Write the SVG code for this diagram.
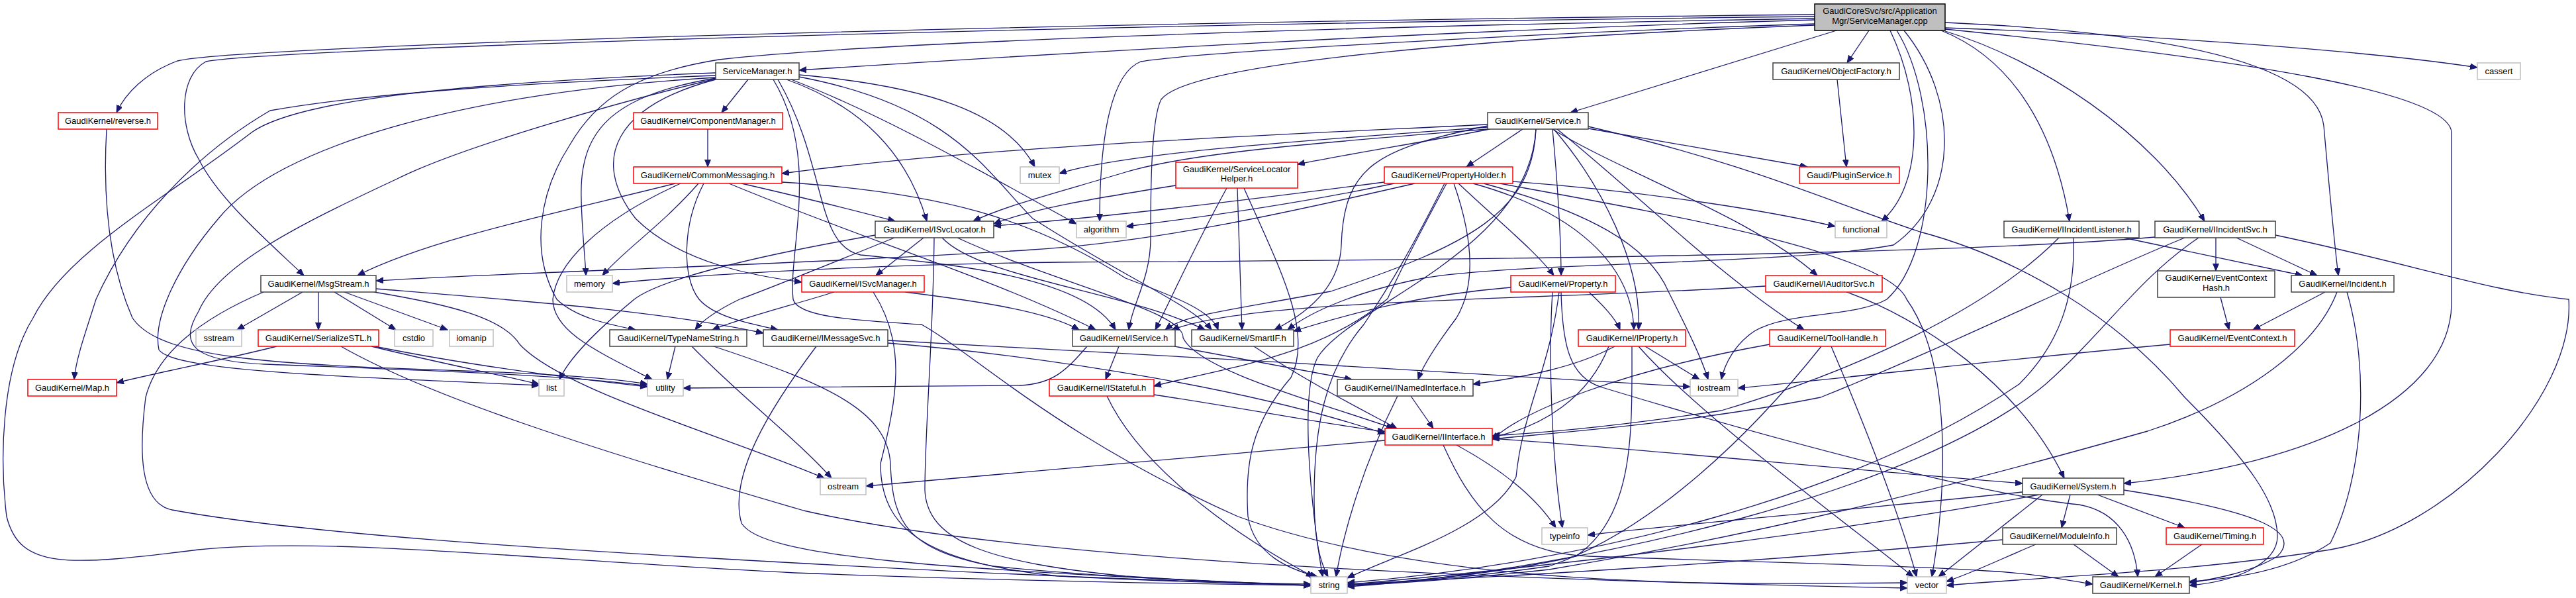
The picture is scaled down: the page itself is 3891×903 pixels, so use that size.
<svg xmlns="http://www.w3.org/2000/svg" width="3891" height="903" viewBox="0 0 3891 903">
<defs>
<marker id="a" markerUnits="userSpaceOnUse" markerWidth="12" markerHeight="10" viewBox="0 0 12 10" refX="11" refY="4.5" orient="auto"><path d="M0,0L11,4.5L0,9z" fill="#191970" stroke="#191970" stroke-width="1"/></marker>
<style>
.e path{fill:none;stroke:#191970;stroke-width:1.3;marker-end:url(#a)}
rect{fill:#fff;stroke-width:1.5}
.k rect{stroke:#404040}
.r rect{stroke:#ff0000}
.g rect{stroke:#bfbfbf}
.m rect{fill:#bfbfbf;stroke:#000}
text{font-family:"Liberation Sans",Arial,Helvetica,sans-serif;font-size:13px;text-anchor:middle;fill:#000}
</style>
</defs>
<rect x="0" y="0" width="3891" height="903" fill="#fff" stroke="none"/>
<g id="edges" class="e">
<path d="M2741,30 C2200,45 1600,80 1207,106"/>
<path d="M2823,46 L2790,95"/>
<path d="M2938,42 C3300,55 3600,80 3742,102"/>
<path d="M2741,22 C1500,35 350,70 268,92 C220,110 190,140 176,170"/>
<path d="M2741,25 C1500,38 400,75 311,93 C270,115 270,190 300,240 C330,300 400,360 459,416"/>
<path d="M2774,46 L2372,170"/>
<path d="M2741,36 C2300,50 1800,80 1723,93 C1680,110 1661,200 1661,334"/>
<path d="M2855,46 C2905,150 2905,280 2842,334"/>
<path d="M2932,46 C3030,85 3100,180 3126,334"/>
<path d="M2938,47 C3080,90 3250,200 3330,334"/>
<path d="M2938,34 C3300,50 3500,100 3510,190 C3518,280 3525,360 3532,416"/>
<path d="M2938,44 C3400,90 3700,140 3703,200 L3703,460 C3700,600 3500,700 3208,730"/>
<path d="M2741,38 C2300,55 1800,90 1754,150 C1738,180 1738,300 1738,360 C1738,420 1710,460 1705,498"/>
<path d="M2876,46 C2960,150 2960,300 2860,370 C2700,400 2300,395 2150,420 C2050,440 1980,470 1945,498"/>
<path d="M2865,46 C2930,150 2930,380 2850,452 C2800,480 2700,470 2650,500 C2620,520 2605,550 2600,573"/>
<path d="M2741,28 C2000,40 1300,65 1086,90 C960,110 900,150 860,220 C815,290 800,380 841,452 C870,480 920,490 960,498"/>
<path d="M1130,120 L1090,170"/>
<path d="M1188,120 C1300,160 1370,230 1400,334"/>
<path d="M1081,120 C930,160 890,240 960,330 C1030,400 1150,418 1211,426"/>
<path d="M1207,113 C1400,130 1520,170 1563,252"/>
<path d="M1195,120 C1350,180 1500,270 1626,338"/>
<path d="M1081,118 C920,145 875,200 878,300 C879,350 884,390 885,416"/>
<path d="M1081,114 C800,125 560,140 408,167 C300,230 200,330 145,452 C130,500 115,540 112,573"/>
<path d="M1081,117 C700,140 420,220 330,330 C270,400 230,480 240,528 C260,560 500,568 814,582"/>
<path d="M1081,119 C950,150 700,220 600,270 C450,340 330,400 300,470 C270,520 290,545 400,550 C600,558 850,565 978,583"/>
<path d="M1081,110 C700,125 450,150 380,200 C250,300 100,380 50,480 C0,560 0,700 10,780 C30,860 100,855 300,830 C500,810 800,845 1200,865 C1600,880 1850,882 1980,884"/>
<path d="M1168,120 C1240,240 1190,380 1198,452 C1205,480 1300,484 1392,490 C1480,540 1600,660 1870,780 C2200,900 2700,880 2881,880"/>
<path d="M1207,116 C1440,160 1490,260 1560,330 C1700,420 1800,460 1830,498"/>
<path d="M1175,120 C1250,250 1230,370 1300,385 C1450,400 1640,420 1685,498"/>
<path d="M2775,120 L2789,252"/>
<path d="M1069,195 L1069,252"/>
<path d="M2247,188 C1900,205 1500,220 1181,262"/>
<path d="M2247,192 C2000,210 1700,230 1600,262"/>
<path d="M2250,195 C2150,215 2050,230 1960,248"/>
<path d="M2300,195 L2215,252"/>
<path d="M2399,194 L2730,252"/>
<path d="M2247,195 C2000,215 1800,230 1700,260 C1600,290 1520,310 1470,334"/>
<path d="M2345,195 C2355,300 2358,380 2358,416"/>
<path d="M2345,195 C2450,260 2650,330 2745,416"/>
<path d="M2352,195 C2470,290 2600,420 2725,498"/>
<path d="M2347,195 C2420,280 2480,400 2475,498"/>
<path d="M2320,195 C2315,320 2220,370 2010,440 C1850,470 1790,475 1760,498"/>
<path d="M2185,277 C2140,360 2110,420 2096,451 C1990,540 1850,555 1743,583"/>
<path d="M2247,190 C2080,225 2030,250 2026,370 C2024,430 1980,470 1925,498"/>
<path d="M2320,195 C2310,380 2040,460 1990,540 C1960,600 1985,800 1998,871"/>
<path d="M2399,191 C2650,250 2750,300 2900,350 C3050,390 3200,480 3300,600 C3400,700 3440,760 3440,810 C3440,850 3380,878 3307,884"/>
<path d="M1020,277 C850,320 650,360 540,416"/>
<path d="M1120,277 C1220,300 1300,320 1352,334"/>
<path d="M1055,277 C1000,340 940,380 910,416"/>
<path d="M1063,277 C1030,340 1030,420 1056,452 C1080,480 1140,490 1175,498"/>
<path d="M1101,277 C1300,360 1500,420 1655,498"/>
<path d="M1181,275 C1420,290 1560,330 1700,420 C1780,450 1830,470 1840,498"/>
<path d="M1028,277 C900,335 840,400 835,452 C835,500 900,530 985,573"/>
<path d="M1776,280 C1650,300 1560,315 1501,338"/>
<path d="M1853,284 C1800,380 1770,450 1745,498"/>
<path d="M1869,284 L1876,498"/>
<path d="M1879,284 C1930,400 1985,500 1950,570 C1890,640 1880,700 1885,780 C1895,840 1950,860 1990,871"/>
<path d="M2091,275 C1900,300 1650,330 1501,341"/>
<path d="M2106,277 C1950,310 1800,330 1701,342"/>
<path d="M2137,277 C1950,320 1750,365 1560,377 C1200,400 800,410 568,424"/>
<path d="M2285,274 C2500,290 2680,320 2772,342"/>
<path d="M2203,277 C2270,340 2320,380 2347,416"/>
<path d="M2265,277 C2500,320 2850,380 2880,452 C2950,550 2940,750 2918,871"/>
<path d="M2241,277 C2400,320 2490,370 2520,440 C2550,500 2570,540 2580,573"/>
<path d="M2225,277 C2380,320 2465,400 2468,498"/>
<path d="M2196,277 C2225,360 2230,430 2200,480 C2170,520 2150,550 2142,573"/>
<path d="M2182,277 C2130,380 2100,430 2060,490 C2000,560 1985,650 1985,750 C1985,820 1995,850 2006,871"/>
<path d="M2400,441 C2420,460 2440,480 2447,498"/>
<path d="M2345,441 C2338,550 2345,700 2360,797"/>
<path d="M2355,441 C2340,560 2300,620 2290,720 C2250,800 2100,840 2035,873"/>
<path d="M2358,441 C2360,520 2370,570 2420,585 C2700,670 3000,748 3140,762 C3200,772 3225,820 3229,871"/>
<path d="M2282,434 C2150,445 2050,470 1954,500"/>
<path d="M2667,432 C2300,455 1900,450 1770,498"/>
<path d="M2789,441 C2900,480 3050,580 3118,722"/>
<path d="M3354,449 L3367,498"/>
<path d="M3512,441 L3403,498"/>
<path d="M3530,441 C3500,520 3400,600 3244,651 C3000,720 2700,800 2340,860 C2200,875 2100,882 2035,884"/>
<path d="M3545,441 C3580,560 3570,720 3520,820 C3460,860 3380,874 3307,878"/>
<path d="M3110,359 C3000,470 2800,560 2600,620 C2400,650 2300,655 2254,658"/>
<path d="M3132,359 C3135,450 3110,520 3050,580 C2800,750 2400,850 2035,880"/>
<path d="M3208,359 L3478,416"/>
<path d="M3255,358 C3000,380 2400,392 1600,396 C1300,400 1050,415 925,428"/>
<path d="M3300,359 C3150,420 2950,520 2750,600 C2550,640 2330,655 2254,663"/>
<path d="M3321,359 C3230,420 3180,500 3090,580 C2900,740 2400,860 2035,886"/>
<path d="M3347,359 L3347,409"/>
<path d="M3378,359 L3500,416"/>
<path d="M3437,355 C3650,400 3760,440 3880,452 C3890,600 3700,800 3520,830 C3300,865 3100,870 2940,884"/>
<path d="M457,441 L358,498"/>
<path d="M481,441 L481,498"/>
<path d="M505,441 L598,498"/>
<path d="M520,441 L676,498"/>
<path d="M568,436 C800,455 1000,470 1153,503"/>
<path d="M565,441 C680,460 760,480 785,520 C850,590 1100,660 1245,722"/>
<path d="M398,441 C330,470 240,520 220,600 C210,680 210,760 260,770 C450,805 800,828 1200,850 C1600,872 1850,880 1980,882"/>
<path d="M418,523 C330,545 250,560 176,578"/>
<path d="M561,523 C650,545 750,565 814,580"/>
<path d="M566,523 C700,550 850,570 978,584"/>
<path d="M515,523 C650,600 900,680 1214,771 C1600,860 2500,880 2881,888"/>
<path d="M1020,523 L1008,573"/>
<path d="M1045,523 C1120,600 1200,660 1256,722"/>
<path d="M1078,523 C1250,580 1340,620 1345,700 C1348,790 1370,830 1500,855 C1700,875 1900,880 1980,884"/>
<path d="M1233,523 C1160,620 1100,720 1120,790 C1150,840 1400,860 1980,884"/>
<path d="M1341,518 C1600,540 1900,590 2092,655"/>
<path d="M1341,514 C1700,535 2200,560 2553,584"/>
<path d="M1774,523 L2042,573"/>
<path d="M1690,523 L1670,573"/>
<path d="M1642,523 C1610,560 1590,580 1540,582 C1300,584 1100,585 1032,586"/>
<path d="M1894,523 C1980,580 2060,620 2110,647"/>
<path d="M2439,523 C2380,555 2300,570 2225,580"/>
<path d="M2430,523 C2400,600 2330,645 2254,660"/>
<path d="M2485,523 L2567,573"/>
<path d="M2465,523 C2465,650 2470,780 2380,840 C2250,870 2100,880 2035,884"/>
<path d="M2475,523 C2560,620 2750,760 2890,871"/>
<path d="M2673,520 C2450,560 2300,620 2254,664"/>
<path d="M2751,523 C2650,650 2500,800 2340,855 C2200,875 2100,880 2035,884"/>
<path d="M2766,523 C2820,650 2870,780 2895,871"/>
<path d="M3278,520 C3000,545 2800,570 2625,586"/>
<path d="M1743,596 C1900,620 2000,640 2092,652"/>
<path d="M1672,598 C1720,700 1850,800 1984,871"/>
<path d="M2131,598 L2165,647"/>
<path d="M2111,598 C2060,700 2030,800 2018,871"/>
<path d="M2092,665 C1800,690 1500,715 1308,734"/>
<path d="M2254,662 C2500,680 2800,710 3055,730"/>
<path d="M2200,672 C2270,710 2320,750 2350,797"/>
<path d="M2180,672 C2220,760 2270,835 2400,840 C2700,850 2900,855 3000,862 C3080,866 3130,878 3161,882"/>
<path d="M3127,747 L3114,797"/>
<path d="M3168,747 L3300,797"/>
<path d="M3055,743 C2800,770 2550,790 2398,808"/>
<path d="M3085,747 L2928,871"/>
<path d="M3080,747 C2800,800 2400,850 2035,883"/>
<path d="M3208,740 C3400,770 3480,800 3440,840 C3400,865 3340,875 3307,880"/>
<path d="M3132,822 L3200,871"/>
<path d="M3025,815 C2700,845 2300,870 2035,882"/>
<path d="M3075,822 C3020,845 2980,865 2940,878"/>
<path d="M3326,822 L3255,871"/>
<path d="M1351,359 C1250,400 1150,440 1117,452 C1080,470 1060,485 1050,498"/>
<path d="M1395,359 L1323,416"/>
<path d="M1411,359 C1410,500 1397,650 1397,740 C1400,820 1500,850 1700,870 C1850,880 1950,883 1980,884"/>
<path d="M1423,359 C1480,420 1700,440 1820,498"/>
<path d="M1446,359 C1600,430 1790,470 1787,510 C1810,560 2000,610 2105,647"/>
<path d="M1322,355 C1150,385 1000,420 958,452 C900,500 860,540 845,573"/>
<path d="M1260,441 C1200,460 1120,480 1076,498"/>
<path d="M1367,441 C1480,455 1580,470 1630,498"/>
<path d="M1319,441 C1370,520 1355,600 1330,700 C1330,800 1400,850 1600,870 C1800,880 1950,883 1980,884"/>
<path d="M161,195 C155,300 165,400 200,480 C240,540 400,550 700,560 C850,565 930,572 978,580"/>
</g>
<g id="n_main" class="m"><rect x="2741" y="6" width="197" height="40"/><text x="2839.5" y="21">GaudiCoreSvc/src/Application</text><text x="2839.5" y="36">Mgr/ServiceManager.cpp</text></g>
<g id="n_smh" class="k"><rect x="1081" y="95" width="126" height="25"/><text x="1144" y="112">ServiceManager.h</text></g>
<g id="n_objf" class="k"><rect x="2678" y="95" width="191" height="25"/><text x="2773.5" y="112">GaudiKernel/ObjectFactory.h</text></g>
<g id="n_cassert" class="g"><rect x="3742" y="95" width="65" height="25"/><text x="3774.5" y="112">cassert</text></g>
<g id="n_rev" class="r"><rect x="88" y="170" width="150" height="25"/><text x="163" y="187">GaudiKernel/reverse.h</text></g>
<g id="n_comp" class="r"><rect x="957" y="170" width="225" height="25"/><text x="1069.5" y="187">GaudiKernel/ComponentManager.h</text></g>
<g id="n_svc" class="k"><rect x="2247" y="170" width="152" height="25"/><text x="2323" y="187">GaudiKernel/Service.h</text></g>
<g id="n_cm" class="r"><rect x="957" y="252" width="224" height="25"/><text x="1069" y="269">GaudiKernel/CommonMessaging.h</text></g>
<g id="n_mutex" class="g"><rect x="1541" y="252" width="59" height="25"/><text x="1570.5" y="269">mutex</text></g>
<g id="n_slh" class="r"><rect x="1776" y="245" width="184" height="39"/><text x="1868" y="259.5">GaudiKernel/ServiceLocator</text><text x="1868" y="274">Helper.h</text></g>
<g id="n_ph" class="r"><rect x="2091" y="252" width="194" height="25"/><text x="2188" y="269">GaudiKernel/PropertyHolder.h</text></g>
<g id="n_plug" class="r"><rect x="2718" y="252" width="151" height="25"/><text x="2793.5" y="269">Gaudi/PluginService.h</text></g>
<g id="n_isl" class="k"><rect x="1322" y="334" width="179" height="25"/><text x="1411.5" y="351">GaudiKernel/ISvcLocator.h</text></g>
<g id="n_alg" class="g"><rect x="1626" y="334" width="75" height="25"/><text x="1663.5" y="351">algorithm</text></g>
<g id="n_func" class="g"><rect x="2772" y="334" width="78" height="25"/><text x="2811" y="351">functional</text></g>
<g id="n_iil" class="k"><rect x="3027" y="334" width="204" height="25"/><text x="3129" y="351">GaudiKernel/IIncidentListener.h</text></g>
<g id="n_iis" class="k"><rect x="3255" y="334" width="182" height="25"/><text x="3346" y="351">GaudiKernel/IIncidentSvc.h</text></g>
<g id="n_msg" class="k"><rect x="394" y="416" width="174" height="25"/><text x="481" y="433">GaudiKernel/MsgStream.h</text></g>
<g id="n_mem" class="g"><rect x="856" y="416" width="69" height="25"/><text x="890.5" y="433">memory</text></g>
<g id="n_ism" class="r"><rect x="1211" y="416" width="185" height="25"/><text x="1303.5" y="433">GaudiKernel/ISvcManager.h</text></g>
<g id="n_prop" class="r"><rect x="2282" y="416" width="158" height="25"/><text x="2361" y="433">GaudiKernel/Property.h</text></g>
<g id="n_ias" class="r"><rect x="2667" y="416" width="176" height="25"/><text x="2755" y="433">GaudiKernel/IAuditorSvc.h</text></g>
<g id="n_ech" class="k"><rect x="3259" y="409" width="177" height="40"/><text x="3347.5" y="424">GaudiKernel/EventContext</text><text x="3347.5" y="439">Hash.h</text></g>
<g id="n_inc" class="k"><rect x="3461" y="416" width="155" height="25"/><text x="3538.5" y="433">GaudiKernel/Incident.h</text></g>
<g id="n_sstream" class="g"><rect x="296" y="498" width="69" height="25"/><text x="330.5" y="515">sstream</text></g>
<g id="n_ser" class="r"><rect x="390" y="498" width="182" height="25"/><text x="481" y="515">GaudiKernel/SerializeSTL.h</text></g>
<g id="n_cstdio" class="g"><rect x="596" y="498" width="58" height="25"/><text x="625" y="515">cstdio</text></g>
<g id="n_iomanip" class="g"><rect x="679" y="498" width="66" height="25"/><text x="712" y="515">iomanip</text></g>
<g id="n_tns" class="k"><rect x="921" y="498" width="207" height="25"/><text x="1024.5" y="515">GaudiKernel/TypeNameString.h</text></g>
<g id="n_ims" class="k"><rect x="1153" y="498" width="188" height="25"/><text x="1247" y="515">GaudiKernel/IMessageSvc.h</text></g>
<g id="n_isvc" class="k"><rect x="1620" y="498" width="155" height="25"/><text x="1697.5" y="515">GaudiKernel/IService.h</text></g>
<g id="n_smart" class="k"><rect x="1800" y="498" width="154" height="25"/><text x="1877" y="515">GaudiKernel/SmartIF.h</text></g>
<g id="n_iprop" class="r"><rect x="2384" y="498" width="162" height="25"/><text x="2465" y="515">GaudiKernel/IProperty.h</text></g>
<g id="n_tool" class="r"><rect x="2673" y="498" width="175" height="25"/><text x="2760.5" y="515">GaudiKernel/ToolHandle.h</text></g>
<g id="n_ec" class="r"><rect x="3278" y="498" width="188" height="25"/><text x="3372" y="515">GaudiKernel/EventContext.h</text></g>
<g id="n_map" class="r"><rect x="42" y="573" width="134" height="25"/><text x="109" y="590">GaudiKernel/Map.h</text></g>
<g id="n_list" class="g"><rect x="814" y="573" width="38" height="25"/><text x="833" y="590">list</text></g>
<g id="n_util" class="g"><rect x="978" y="573" width="54" height="25"/><text x="1005" y="590">utility</text></g>
<g id="n_ist" class="r"><rect x="1585" y="573" width="158" height="25"/><text x="1664" y="590">GaudiKernel/IStateful.h</text></g>
<g id="n_inn" class="k"><rect x="2020" y="573" width="205" height="25"/><text x="2122.5" y="590">GaudiKernel/INamedInterface.h</text></g>
<g id="n_iostream" class="g"><rect x="2553" y="573" width="72" height="25"/><text x="2589" y="590">iostream</text></g>
<g id="n_ii" class="r"><rect x="2092" y="647" width="162" height="25"/><text x="2173" y="664">GaudiKernel/IInterface.h</text></g>
<g id="n_ostream" class="g"><rect x="1239" y="722" width="69" height="25"/><text x="1273.5" y="739">ostream</text></g>
<g id="n_sys" class="k"><rect x="3055" y="722" width="153" height="25"/><text x="3131.5" y="739">GaudiKernel/System.h</text></g>
<g id="n_typeinfo" class="g"><rect x="2329" y="797" width="69" height="25"/><text x="2363.5" y="814">typeinfo</text></g>
<g id="n_mod" class="k"><rect x="3025" y="797" width="172" height="25"/><text x="3111" y="814">GaudiKernel/ModuleInfo.h</text></g>
<g id="n_tim" class="r"><rect x="3272" y="797" width="147" height="25"/><text x="3345.5" y="814">GaudiKernel/Timing.h</text></g>
<g id="n_string" class="g"><rect x="1980" y="871" width="55" height="25"/><text x="2007.5" y="888">string</text></g>
<g id="n_vector" class="g"><rect x="2881" y="871" width="59" height="25"/><text x="2910.5" y="888">vector</text></g>
<g id="n_kernel" class="k"><rect x="3161" y="871" width="146" height="25"/><text x="3234" y="888">GaudiKernel/Kernel.h</text></g>
</svg>
